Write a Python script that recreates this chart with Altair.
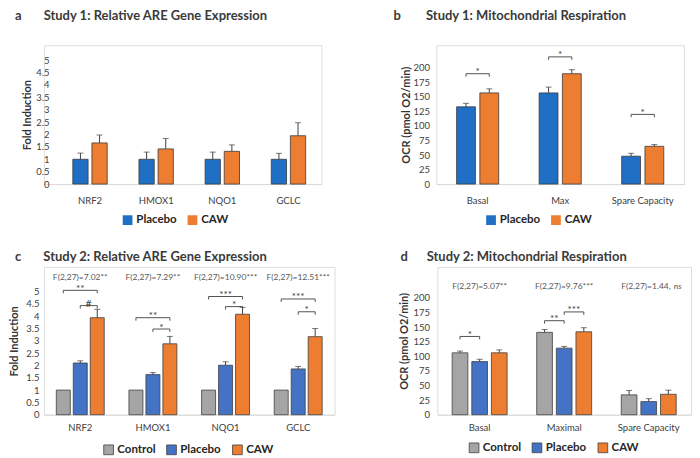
import altair as alt
import pandas as pd

FONT = "Lato"
DARK = "#404040"

# ---------------- Panel a: Study 1 gene expression ----------------
a_genes = ["NRF2", "HMOX1", "NQO1", "GCLC"]
a_groups = ["Placebo", "CAW"]
a_placebo = [1.0, 1.0, 1.0, 1.0]
a_placebo_err = [0.25, 0.29, 0.29, 0.24]
a_caw = [1.66, 1.42, 1.32, 1.95]
a_caw_err = [0.32, 0.42, 0.26, 0.52]

# ---------------- Panel b: Study 1 respiration ----------------
b_measures = ["Basal", "Max", "Spare Capacity"]
b_groups = ["Placebo", "CAW"]
b_placebo = [133, 157, 48]
b_placebo_err = [6, 10, 5]
b_caw = [157, 190, 65]
b_caw_err = [7, 7, 3]
b_sig_cat = ["Basal", "Max", "Spare Capacity"]
b_sig_from = ["Placebo", "Placebo", "Placebo"]
b_sig_to = ["CAW", "CAW", "CAW"]
b_sig_y = [190, 219, 120]
b_sig_label = ["*", "*", "*"]

# ---------------- Panel c: Study 2 gene expression ----------------
c_genes = ["NRF2", "HMOX1", "NQO1", "GCLC"]
c_groups = ["Control", "Placebo", "CAW"]
c_control = [1.0, 1.0, 1.0, 1.0]
c_control_err = [0, 0, 0, 0]
c_placebo = [2.10, 1.63, 2.01, 1.86]
c_placebo_err = [0.09, 0.08, 0.14, 0.10]
c_caw = [3.94, 2.88, 4.08, 3.17]
c_caw_err = [0.34, 0.30, 0.28, 0.33]
c_sig_cat = ["NRF2", "NRF2", "HMOX1", "HMOX1", "NQO1", "NQO1", "GCLC", "GCLC"]
c_sig_from = ["Control", "Placebo", "Control", "Placebo", "Control", "Placebo", "Control", "Placebo"]
c_sig_to = ["CAW"] * 8
c_sig_y = [5.05, 4.43, 3.94, 3.48, 4.80, 4.39, 4.70, 4.18]
c_sig_label = ["**", "#", "**", "*", "***", "*", "***", "*"]
c_f_labels = ["F(2,27)=7.02**", "F(2,27)=7.29**", "F(2,27)=10.90***", "F(2,27)=12.51***"]
c_f_y = 5.6

# ---------------- Panel d: Study 2 respiration ----------------
d_measures = ["Basal", "Maximal", "Spare Capacity"]
d_groups = ["Control", "Placebo", "CAW"]
d_control = [106, 141, 34]
d_control_err = [3, 5, 7.5]
d_placebo = [91, 114, 22.5]
d_placebo_err = [4, 3, 5]
d_caw = [106, 142, 35]
d_caw_err = [5, 7, 7]
d_sig_cat = ["Basal", "Maximal", "Maximal"]
d_sig_from = ["Control", "Control", "Placebo"]
d_sig_to = ["Placebo", "Placebo", "CAW"]
d_sig_y = [134, 161, 176]
d_sig_label = ["*", "**", "***"]
d_f_labels = ["F(2,27)=5.07**", "F(2,27)=9.76***", ""]
d_f_y = 221
d_ns_cat = ["Spare Capacity"]
d_ns_text = ["F(2,27)=1.44,"]
d_ns_italic = ["ns"]


def long_table(cats, groups, vals, errs):
    rows = []
    for g, v, e in zip(groups, vals, errs):
        for c, vv, ee in zip(cats, v, e):
            rows.append({"cat": c, "group": g, "val": vv, "err": ee, "top": vv + ee})
    return pd.DataFrame(rows)


def sig_tables(groups, cats_, froms, tos, ys, labels, drop):
    lines, texts = [], []
    for i, (c, a, b, y, lab) in enumerate(zip(cats_, froms, tos, ys, labels)):
        for k, (g, yy) in enumerate([(a, y - drop), (a, y), (b, y), (b, y - drop)]):
            lines.append({"cat": c, "group": g, "val": yy, "bid": i, "k": k})
        ia, ib = groups.index(a), groups.index(b)
        if ib - ia == 2:
            texts.append({"cat": c, "group": groups[ia + 1], "val": y, "label": lab, "kind": "span"})
        else:
            texts.append({"cat": c, "group": a, "val": y, "label": lab, "kind": "adj"})
    return pd.DataFrame(lines), pd.DataFrame(texts)


def panel(cats, groups, colors, df, lines, texts, W, H, ymax, yvals, ytitle,
          pi, po, opi, half, title_text, title_dx, title_offset,
          legend_x, legend_y, label_pad, title_x, bar_stroke, sym_stroke,
          flab=None, flab_y=None, ns=None, left_gap=0, xlabel_pad=10):
    xscale = alt.Scale(domain=cats, paddingInner=pi, paddingOuter=po)
    if left_gap:
        xscale = alt.Scale(domain=cats, paddingInner=pi, paddingOuter=po, rangeMin=left_gap)
    xenc = alt.X("cat:N", sort=cats, scale=xscale,
                 axis=alt.Axis(title=None, labelAngle=0, ticks=False, domainColor="#d9d9d9",
                               labelFont=FONT, labelFontSize=9.5, labelColor=DARK,
                               labelPadding=xlabel_pad))
    xo = alt.XOffset("group:N", sort=groups,
                     scale=alt.Scale(domain=groups, paddingInner=opi, paddingOuter=0))
    yenc = alt.Y("val:Q", scale=alt.Scale(domain=[0, ymax], nice=False, zero=True),
                 axis=alt.Axis(values=yvals, labelExpr="datum.value", title=ytitle,
                               domain=False, ticks=False, grid=False, labelOverlap=False,
                               offset=-left_gap,
                               labelFont=FONT, labelFontSize=9.5, labelColor=DARK,
                               labelPadding=label_pad, titleFont=FONT, titleFontSize=11,
                               titleFontWeight="bold", titleColor="#333333",
                               titleX=title_x, titleBaseline="middle"))
    base = alt.Chart(df)
    bars = base.mark_bar(stroke=bar_stroke, strokeWidth=0.8).encode(
        x=xenc, xOffset=xo, y=yenc,
        color=alt.Color("group:N",
                        scale=alt.Scale(domain=groups, range=colors),
                        legend=alt.Legend(title=None, orient="none", legendX=legend_x,
                                          legendY=legend_y, direction="horizontal",
                                          symbolType="square", symbolSize=95,
                                          symbolStrokeColor=sym_stroke,
                                          symbolStrokeWidth=0.8 if sym_stroke else 0,
                                          labelFont=FONT, labelFontSize=11.5,
                                          labelFontWeight="bold", labelColor="#262626",
                                          columnPadding=9, labelOffset=3)))
    err = df[df["err"] > 0]
    err_rule = alt.Chart(err).mark_rule(color=DARK, strokeWidth=1).encode(
        x=xenc, xOffset=xo, y=yenc, y2="top:Q")
    caps = err[["cat", "group", "top"]].rename(columns={"top": "val"})
    err_cap = alt.Chart(caps).mark_tick(orient="horizontal", size=6, thickness=1,
                                        color=DARK).encode(x=xenc, xOffset=xo, y=yenc)
    layers = [bars, err_rule, err_cap]
    if lines is not None:
        br = alt.Chart(lines).mark_line(color=DARK, strokeWidth=0.9).encode(
            x=xenc, xOffset=xo, y=yenc, detail="bid:N", order="k:Q")
        layers.append(br)
        for kind, dx in [("adj", half), ("span", 0)]:
            sub = texts[texts["kind"] == kind]
            if len(sub):
                layers.append(alt.Chart(sub).mark_text(
                    font=FONT, fontSize=10, color=DARK, baseline="alphabetic", dx=dx, dy=1.5
                ).encode(x=xenc, xOffset=xo, y=yenc, text="label:N"))
    if flab is not None:
        fdf = pd.DataFrame({"cat": cats, "label": flab, "val": [flab_y] * len(cats)})
        layers.append(alt.Chart(fdf).mark_text(
            font=FONT, fontSize=8.5, color="#595959", baseline="middle"
        ).encode(x=xenc, y=yenc, text="label:N"))
    if ns is not None:
        ncat, ntext, nital = ns
        ndf = pd.DataFrame({"cat": ncat, "label": ntext, "it": nital, "val": [flab_y] * len(ncat)})
        layers.append(alt.Chart(ndf).mark_text(
            font=FONT, fontSize=8.5, color="#595959", baseline="middle", align="right", dx=22
        ).encode(x=xenc, y=yenc, text="label:N"))
        layers.append(alt.Chart(ndf).mark_text(
            font=FONT, fontSize=8.5, color="#595959", baseline="middle", align="left", dx=25,
            fontStyle="italic"
        ).encode(x=xenc, y=yenc, text="it:N"))
    return alt.layer(*layers).properties(
        width=W, height=H,
        title=alt.TitleParams(text=title_text, anchor="start", frame="group", dx=title_dx,
                              offset=title_offset, font=FONT, fontSize=13,
                              fontWeight="bold", color="#3a3a3a"))


NB = "\u00a0"
BLUE1 = "#1f6fc5"
BLUE2 = "#4472c4"
ORANGE = "#ed7d31"
GREY = "#a5a5a5"

dfa = long_table(a_genes, a_groups, [a_placebo, a_caw], [a_placebo_err, a_caw_err])
pa = panel(a_genes, a_groups, [BLUE1, ORANGE], dfa, None, None,
           W=278, H=139, ymax=5.6, yvals=[0, 0.5, 1, 1.5, 2, 2.5, 3, 3.5, 4, 4.5, 5],
           ytitle="Fold Induction", pi=0.48, po=0.24, opi=0.2, half=0,
           title_text="a" + NB * 7 + "Study 1: Relative ARE Gene Expression",
           title_dx=-29, title_offset=22, legend_x=78, legend_y=169,
           label_pad=8, title_x=-29, bar_stroke="#3b3b3b", sym_stroke=None, left_gap=13,
           xlabel_pad=11)

dfb = long_table(b_measures, b_groups, [b_placebo, b_caw], [b_placebo_err, b_caw_err])
lb, tb = sig_tables(b_groups, b_sig_cat, b_sig_from, b_sig_to, b_sig_y, b_sig_label, 5)
pb = panel(b_measures, b_groups, [BLUE1, ORANGE], dfb, lb, tb,
           W=248, H=139, ymax=239, yvals=list(range(0, 201, 25)),
           ytitle="OCR (pmol O2/min)", pi=0.49, po=0.245, opi=0.19, half=11.6,
           title_text="b" + NB * 8 + "Study 1: Mitochondrial Respiration",
           title_dx=-43, title_offset=22, legend_x=49, legend_y=169,
           label_pad=7, title_x=-30, bar_stroke="#3b3b3b", sym_stroke=None,
           xlabel_pad=11)

dfc = long_table(c_genes, c_groups, [c_control, c_placebo, c_caw],
                 [c_control_err, c_placebo_err, c_caw_err])
lc, tc = sig_tables(c_groups, c_sig_cat, c_sig_from, c_sig_to, c_sig_y, c_sig_label, 0.12)
pc = panel(c_genes, c_groups, [GREY, BLUE2, ORANGE], dfc, lc, tc,
           W=291, H=148, ymax=6.0, yvals=[0, 0.5, 1, 1.5, 2, 2.5, 3, 3.5, 4, 4.5, 5],
           ytitle="Fold Induction", pi=0.34, po=0.17, opi=0.176, half=8.5,
           title_text="c" + NB * 7 + "Study 2: Relative ARE Gene Expression",
           title_dx=-29, title_offset=3, legend_x=59, legend_y=177,
           label_pad=5, title_x=-29, bar_stroke=DARK, sym_stroke=DARK,
           flab=c_f_labels, flab_y=c_f_y, xlabel_pad=8)

dfd = long_table(d_measures, d_groups, [d_control, d_placebo, d_caw],
                 [d_control_err, d_placebo_err, d_caw_err])
ld, td = sig_tables(d_groups, d_sig_cat, d_sig_from, d_sig_to, d_sig_y, d_sig_label, 5)
pd_ = panel(d_measures, d_groups, [GREY, BLUE2, ORANGE], dfd, ld, td,
            W=254, H=148, ymax=253, yvals=list(range(0, 201, 25)),
            ytitle="OCR (pmol O2/min)", pi=0.35, po=0.175, opi=0.2, half=9.8,
            title_text="d" + NB * 6 + "Study 2: Mitochondrial Respiration",
            title_dx=-37, title_offset=3, legend_x=31, legend_y=175,
            label_pad=8, title_x=-33, bar_stroke=DARK, sym_stroke=DARK,
            flab=d_f_labels, flab_y=d_f_y, ns=(d_ns_cat, d_ns_text, d_ns_italic),
            xlabel_pad=8)

res = dict(x="independent", y="independent", color="independent", xOffset="independent")
top = alt.hconcat(pa, pb, spacing=115, bounds="flush").resolve_scale(**res)
bottom = alt.hconcat(pc, pd_, spacing=103, bounds="flush").resolve_scale(**res)
chart = alt.vconcat(top, bottom, spacing=23).resolve_scale(**res).properties(
    padding={"left": 0, "top": 1, "right": 0, "bottom": 0}
).configure_view(stroke=None).configure(background="white")

chart.save("out.html", embed_options={"renderer": "svg", "actions": False})
